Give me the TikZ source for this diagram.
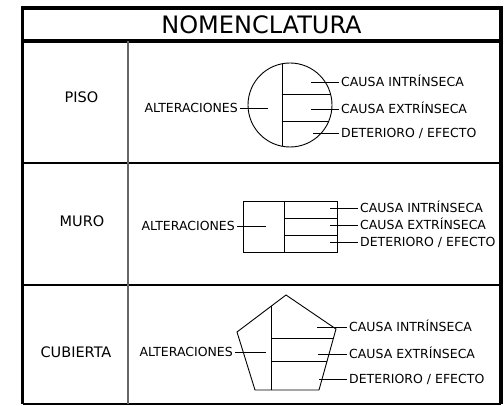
\documentclass[tikz,border=0pt]{standalone}
\usepackage{fontspec}
\setmainfont{DejaVu Sans}
\usetikzlibrary{positioning}

\begin{document}
\begin{tikzpicture}[x=1pt, y=-1pt,
    frame/.style={line width=3.5pt},
    sep/.style={line width=1.3pt},
    fig/.style={line width=0.9pt},
    lead/.style={line width=0.8pt},
    lbl/.style={anchor=west, font=\fontsize{12.5}{14}\selectfont, inner xsep=2pt, inner ysep=0pt, text height=9pt, text depth=0pt},
    title/.style={font=\fontsize{24}{28}\selectfont},
    row/.style={font=\fontsize{14.5}{16}\selectfont}
]
\useasboundingbox (0,0) rectangle (504,406);

% Table frame
\draw[frame] (22.5,404.5) -- (22.5,8) -- (501,8) -- (501,404.5);
\draw[line width=2pt] (22.5,404.5) -- (501,404.5);
\draw[frame] (22.5,41) -- (501,41);
\draw[sep] (22.5,163) -- (501,163);
\draw[sep] (22.5,285) -- (501,285);
\draw[line width=1.2pt, black!60] (128,41) -- (128,404.5);

\node (titulo) at (261.5,24.5) [title] {NOMENCLATURA};

% PISO row
\node (piso) at (81.5,97) [row] {PISO};
\draw[fig] (290,105) circle (42pt);
\draw[fig] (282,64) -- (282,146);
\draw[fig] (282,94) -- (330.5,94);
\draw[fig] (282,121) -- (328.8,121);
\coordinate (p0) at (268,108);
\coordinate (p1) at (311,82);
\coordinate (p2) at (311,109);
\coordinate (p3) at (313,133);
\node (palt) at (240,108) [lbl, anchor=east] {ALTERACIONES};
\node (pint) at (339,82) [lbl] {CAUSA INTRÍNSECA};
\node (pext) at (339,109) [lbl] {CAUSA EXTRÍNSECA};
\node (pdet) at (339,133) [lbl] {DETERIORO / EFECTO};
\draw[lead] (palt.east) -- (p0);
\draw[lead] (p1) -- (pint.west);
\draw[lead] (p2) -- (pext.west);
\draw[lead] (p3) -- (pdet.west);

% MURO row
\node (muro) at (82,221) [row] {MURO};
\draw[fig] (243,201) rectangle (337,252);
\draw[fig] (284,201) -- (284,252);
\draw[fig] (284,218) -- (337,218);
\draw[fig] (284,235) -- (337,235);
\coordinate (m0) at (266,226);
\coordinate (m1) at (330,208);
\coordinate (m2) at (330,225);
\coordinate (m3) at (330,242.5);
\node (malt) at (237,226) [lbl, anchor=east] {ALTERACIONES};
\node (mint) at (358,208) [lbl] {CAUSA INTRÍNSECA};
\node (mext) at (358,225) [lbl] {CAUSA EXTRÍNSECA};
\node (mdet) at (358,242.5) [lbl] {DETERIORO / EFECTO};
\draw[lead] (malt.east) -- (m0);
\draw[lead] (m1) -- (mint.west);
\draw[lead] (m2) -- (mext.west);
\draw[lead] (m3) -- (mdet.west);

% CUBIERTA row
\node (cubierta) at (76,352) [row] {CUBIERTA};
\draw[fig] (286,295) -- (336,329) -- (319,390) -- (255,390) -- (237,332) -- cycle;
\draw[fig] (271,306.3) -- (271,390);
\draw[fig] (271,338) -- (333.5,338);
\draw[fig] (271,361) -- (327,361);
\coordinate (c0) at (266,352.5);
\coordinate (c1) at (317,327);
\coordinate (c2) at (318,354);
\coordinate (c3) at (319,379.5);
\node (calt) at (235,352.5) [lbl, anchor=east] {ALTERACIONES};
\node (cint) at (347,327) [lbl] {CAUSA INTRÍNSECA};
\node (cext) at (347,354) [lbl] {CAUSA EXTRÍNSECA};
\node (cdet) at (347,379.5) [lbl] {DETERIORO / EFECTO};
\draw[lead] (calt.east) -- (c0);
\draw[lead] (c1) -- (cint.west);
\draw[lead] (c2) -- (cext.west);
\draw[lead] (c3) -- (cdet.west);

\end{tikzpicture}
\end{document}
